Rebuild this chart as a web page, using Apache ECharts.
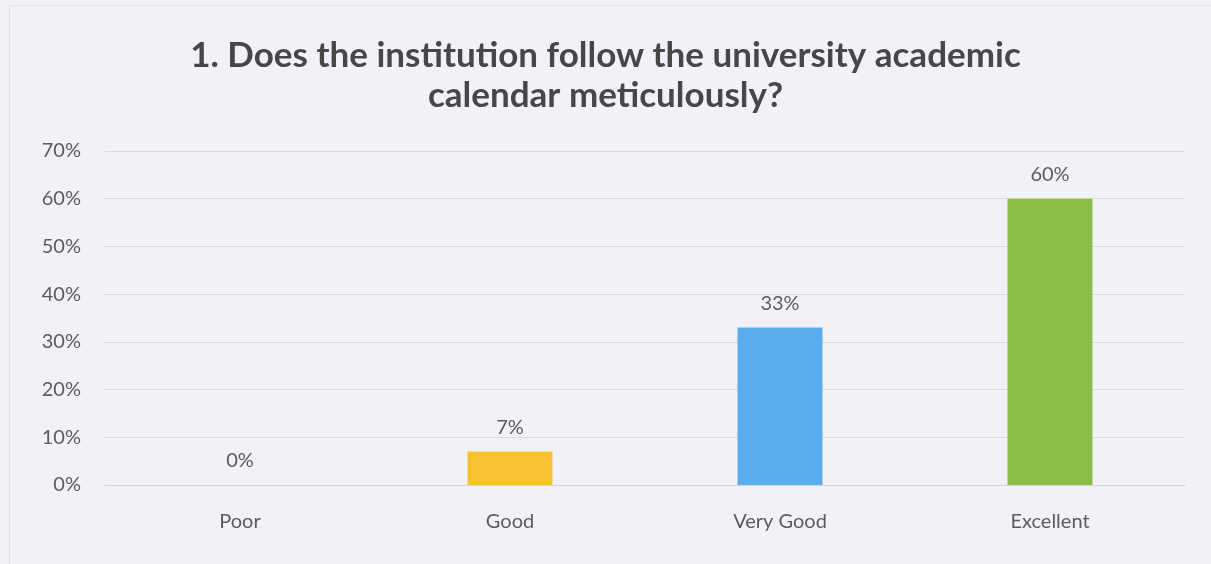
<!DOCTYPE html>
<html>
<head>
<meta charset="utf-8">
<script src="https://cdn.jsdelivr.net/npm/echarts@6/dist/echarts.min.js"></script>
<style>
html,body{margin:0;padding:0;background:#f2f1f8;}
#chart{width:1211px;height:564px;}
</style>
</head>
<body>
<div id="chart"></div>
<script>
const titleText = "1. Does the institution follow the university academic\ncalendar meticulously?";
const categories = ["Poor", "Good", "Very Good", "Excellent"];
const values = [0, 0.07, 0.33, 0.60];
const barColors = ["#F8C131", "#F8C131", "#59ADEB", "#8CBD47"];
const yTicks = [0, 0.1, 0.2, 0.3, 0.4, 0.5, 0.6, 0.7];

const chart = echarts.init(document.getElementById('chart'), null, {renderer: 'canvas'});
chart.setOption({
  backgroundColor: '#f2f1f8',
  animation: false,
  graphic: [{
    type: 'rect',
    silent: true,
    shape: {x: 9.5, y: 5.5, width: 1240, height: 600},
    style: {fill: 'none', stroke: '#e3e2ea', lineWidth: 1}
  }],
  title: {
    text: titleText,
    left: 'center',
    top: 31,
    textStyle: {fontFamily: 'Lato', fontWeight: 'bold', fontSize: 35, lineHeight: 40, color: '#474747'}
  },
  grid: {left: 105, right: 26, top: 151, bottom: 79, containLabel: false},
  xAxis: {
    type: 'category',
    data: categories,
    axisLine: {show: true, lineStyle: {color: '#d6d5dd', width: 1}},
    axisTick: {show: false},
    axisLabel: {color: '#5c5c5c', fontSize: 20, fontFamily: 'Lato', margin: 27}
  },
  yAxis: {
    type: 'value',
    min: yTicks[0],
    max: yTicks[yTicks.length - 1],
    interval: 0.1,
    axisLine: {show: false},
    axisTick: {show: false},
    splitLine: {lineStyle: {color: '#dcdbe3', width: 1}},
    axisLabel: {
      color: '#5c5c5c', fontSize: 20, fontFamily: 'Lato', margin: 24,
      formatter: v => Math.round(v * 100) + '%'
    }
  },
  series: [{
    type: 'bar',
    barWidth: 85,
    data: values.map((v, i) => ({value: v, itemStyle: {color: barColors[i]}})),
    label: {
      show: true,
      position: 'top',
      distance: 14,
      color: '#5c5c5c',
      fontSize: 20,
      fontFamily: 'Lato',
      formatter: p => Math.round(p.value * 100) + '%'
    }
  }]
});
</script>
</body>
</html>
